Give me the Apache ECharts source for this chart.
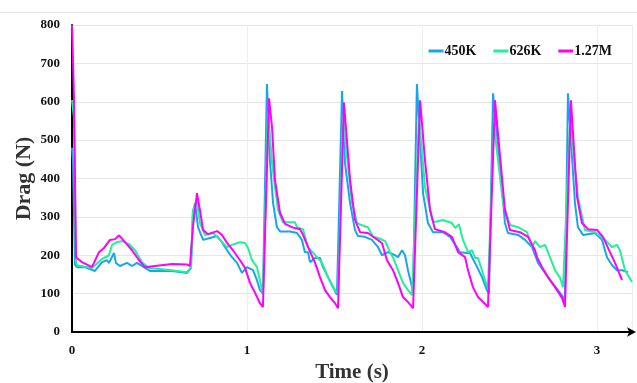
<!DOCTYPE html>
<html>
<head>
<meta charset="utf-8">
<script src="https://cdn.jsdelivr.net/npm/echarts@6/dist/echarts.min.js"></script>
<style>html,body{margin:0;padding:0;background:#fff}#c{width:637px;height:383px}</style>
</head>
<body>
<div id="c"></div>
<script>
// Tick labels
const xTicks = [0, 1, 2, 3];
const yTicks = [0, 100, 200, 300, 400, 500, 600, 700, 800];
const seriesNames = ['450K', '626K', '1.27M'];

// [time (s), drag (N)]
const drag450K = [
  [0,480],[0.006,440],[0.017,175],[0.029,169],[0.074,169],[0.131,159],[0.171,182],[0.2,187],[0.211,180],[0.24,206],[0.251,180],[0.274,172],[0.314,180],[0.343,172],[0.371,180],[0.411,169],[0.446,159],[0.571,159],[0.657,154],[0.68,167],
  [0.691,310],[0.703,336],[0.72,273],[0.749,240],[0.789,245],[0.829,250],[0.857,234],[0.886,213],[0.914,195],[0.943,180],[0.971,154],[1.0,169],[1.034,161],[1.057,135],[1.074,109],[1.091,100],
  [1.114,646],[1.131,448],[1.149,336],[1.171,273],[1.189,262],[1.246,262],[1.286,258],[1.314,240],[1.331,208],[1.349,208],[1.36,182],[1.389,193],[1.417,193],[1.434,169],[1.463,143],[1.491,117],[1.514,97],
  [1.543,628],[1.56,440],[1.589,336],[1.617,266],[1.634,250],[1.674,248],[1.714,240],[1.749,221],[1.771,200],[1.806,208],[1.846,200],[1.863,195],[1.886,213],[1.903,200],[1.92,161],[1.943,117],[1.949,105],
  [1.971,646],[2.006,362],[2.034,284],[2.063,260],[2.12,260],[2.16,248],[2.2,221],[2.217,208],[2.257,206],[2.274,206],[2.303,180],[2.343,143],[2.371,109],[2.383,100],
  [2.406,622],[2.457,378],[2.474,284],[2.491,258],[2.549,253],[2.589,240],[2.629,221],[2.663,180],[2.703,154],[2.743,128],[2.777,109],[2.806,91],[2.817,75],
  [2.834,622],[2.874,336],[2.891,273],[2.92,253],[2.989,258],[3.029,240],[3.057,195],[3.086,174],[3.114,161],[3.143,161],[3.177,156]
];
const drag626K = [
  [0,604],[0.011,560],[0.023,180],[0.029,174],[0.114,167],[0.171,190],[0.211,200],[0.229,227],[0.257,234],[0.286,237],[0.326,229],[0.36,213],[0.4,182],[0.44,167],[0.571,161],[0.657,156],[0.68,169],
  [0.691,318],[0.714,339],[0.731,284],[0.76,253],[0.806,258],[0.846,240],[0.886,221],[0.914,227],[0.96,234],[0.989,232],[1.006,219],[1.029,187],[1.057,169],[1.074,135],[1.091,97],
  [1.12,575],[1.143,440],[1.177,318],[1.206,286],[1.274,286],[1.286,273],[1.32,268],[1.349,221],[1.4,195],[1.429,180],[1.463,143],[1.503,109],[1.52,100],
  [1.549,565],[1.56,508],[1.6,336],[1.629,284],[1.657,278],[1.691,273],[1.72,248],[1.749,245],[1.789,237],[1.817,208],[1.834,195],[1.863,161],[1.891,128],[1.92,109],[1.943,96],
  [1.983,560],[2.017,378],[2.063,286],[2.12,292],[2.171,284],[2.189,271],[2.211,281],[2.234,240],[2.263,208],[2.286,213],[2.303,193],[2.32,193],[2.343,161],[2.36,135],[2.377,115],
  [2.411,540],[2.463,336],[2.503,279],[2.549,273],[2.6,260],[2.629,221],[2.646,237],[2.674,221],[2.703,227],[2.731,195],[2.76,161],[2.789,141],[2.806,117],
  [2.846,552],[2.891,352],[2.931,266],[2.989,260],[3.046,240],[3.086,221],[3.114,227],[3.131,213],[3.16,161],[3.2,130]
];
const drag127M = [
  [0,800],[0.006,700],[0.011,615],[0.023,195],[0.029,190],[0.057,182],[0.114,169],[0.154,208],[0.183,219],[0.217,240],[0.246,242],[0.269,252],[0.303,234],[0.343,213],[0.383,187],[0.417,169],[0.474,172],[0.571,177],[0.657,176],[0.674,172],
  [0.691,273],[0.714,362],[0.731,318],[0.749,266],[0.777,255],[0.829,263],[0.857,253],[0.886,232],[0.92,213],[0.96,187],[0.989,167],[1.017,128],[1.046,102],[1.074,75],[1.091,65],
  [1.126,609],[1.143,534],[1.16,396],[1.189,310],[1.217,282],[1.263,272],[1.303,268],[1.32,253],[1.349,221],[1.389,180],[1.417,143],[1.446,109],[1.474,91],[1.503,75],[1.52,62],
  [1.554,598],[1.589,396],[1.617,292],[1.646,260],[1.691,258],[1.731,245],[1.771,232],[1.8,187],[1.834,161],[1.863,128],[1.891,91],[1.92,78],[1.949,62],
  [1.989,604],[2.017,448],[2.046,318],[2.074,268],[2.131,260],[2.171,248],[2.206,208],[2.246,195],[2.263,161],[2.291,117],[2.32,91],[2.349,78],[2.377,65],
  [2.417,604],[2.474,318],[2.503,266],[2.56,260],[2.606,248],[2.646,213],[2.657,195],[2.686,169],[2.72,143],[2.76,117],[2.8,89],[2.817,65],
  [2.851,604],[2.886,352],[2.914,284],[2.949,268],[3.0,266],[3.034,248],[3.074,208],[3.103,180],[3.143,135]
];

const colors = ['#17a6ec', '#22f096', '#ff00ff'];
const serif = '"Liberation Serif", "Times New Roman", serif';

const chart = echarts.init(document.getElementById('c'), null, {renderer: 'canvas'});
chart.setOption({
  animation: false,
  backgroundColor: '#fff',
  grid: {left: 72, right: 5, top: 25, bottom: 51, containLabel: false, outerBoundsMode: 'none'},
  legend: {
    data: seriesNames,
    right: 20, top: 39,
    itemWidth: 15, itemHeight: 3, itemGap: 17,
    icon: 'rect',
    textStyle: {fontFamily: serif, fontWeight: 'bold', fontSize: 14, color: '#111', padding: [0,0,0,-4]}
  },
  graphic: [
    {type: 'rect', shape: {x: 0, y: 12, width: 637, height: 1}, style: {fill: '#e4e4e4'}, silent: true}
  ],
  xAxis: {
    type: 'value', min: 0, max: 3.2, interval: 1,
    name: 'Time (s)', nameLocation: 'middle', nameGap: 29,
    nameTextStyle: {fontFamily: serif, fontWeight: 'bold', fontSize: 21, color: '#333'},
    axisLine: {lineStyle: {color: '#000', width: 2}, symbol: ['none', 'arrow'], symbolSize: [7, 9], symbolOffset: [0, 4]},
    axisTick: {show: false},
    axisLabel: {fontFamily: serif, fontWeight: 'bold', fontSize: 13, color: '#111', margin: 12,
      formatter: v => xTicks.indexOf(v) >= 0 ? String(v) : ''},
    splitLine: {show: true, lineStyle: {color: '#eeeeee', width: 1}}
  },
  yAxis: {
    type: 'value', min: 0, max: 800, interval: 100,
    name: 'Drag (N)', nameLocation: 'middle', nameGap: 37, nameMoveOverlap: false,
    nameTextStyle: {fontFamily: serif, fontWeight: 'bold', fontSize: 22, color: '#333'},
    axisLine: {show: true, lineStyle: {color: '#000', width: 2}},
    axisTick: {show: false},
    axisLabel: {fontFamily: serif, fontWeight: 'bold', fontSize: 13, color: '#111', margin: 12,
      formatter: v => yTicks.indexOf(v) >= 0 ? String(v) : ''},
    splitLine: {show: true, lineStyle: {color: '#e6e6e6', width: 1}}
  },
  series: [
    {name: seriesNames[0], type: 'line', data: drag450K, showSymbol: false, symbol: 'none', lineStyle: {width: 2, color: colors[0]}, itemStyle: {color: colors[0]}},
    {name: seriesNames[1], type: 'line', data: drag626K, showSymbol: false, symbol: 'none', lineStyle: {width: 2, color: colors[1]}, itemStyle: {color: colors[1]}},
    {name: seriesNames[2], type: 'line', data: drag127M, showSymbol: false, symbol: 'none', lineStyle: {width: 2, color: colors[2]}, itemStyle: {color: colors[2]}}
  ]
});
</script>
</body>
</html>
